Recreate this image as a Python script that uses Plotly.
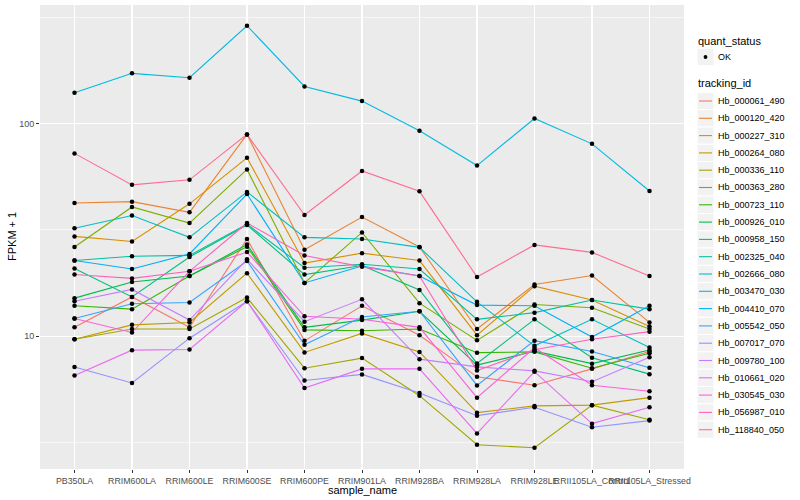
import plotly.graph_objects as go

samples = ["PB350LA", "RRIM600LA", "RRIM600LE", "RRIM600SE", "RRIM600PE", "RRIM901LA",
           "RRIM928BA", "RRIM928LA", "RRIM928LE", "RRII105LA_Control", "RRII105LA_Stressed"]

Hb_000061_490 = [11.0, 15.3, 11.0, 28.7, 9.5, 13.9, 10.1, 6.43, 5.87, 7.01, 8.47]
Hb_000120_420 = [42.4, 43.0, 38.3, 89.2, 25.5, 36.4, 26.3, 10.8, 17.5, 19.3, 11.6]
Hb_000227_310 = [29.5, 27.9, 42.0, 69.2, 22.1, 24.6, 22.7, 10.1, 17.2, 14.8, 11.1]
Hb_000264_080 = [9.66, 11.3, 11.6, 19.8, 8.38, 10.3, 8.42, 4.36, 4.69, 4.73, 5.13]
Hb_000336_110 = [9.66, 10.8, 10.8, 15.2, 7.06, 7.88, 5.24, 3.08, 2.98, 4.73, 4.04]
Hb_000363_280 = [26.3, 40.6, 34.1, 61.0, 17.8, 30.8, 14.3, 9.55, 14.1, 13.6, 10.8]
Hb_000723_110 = [13.9, 13.4, 19.2, 26.4, 10.7, 10.6, 10.8, 8.36, 8.43, 7.06, 8.30]
Hb_000926_010 = [15.1, 18.0, 19.2, 27.0, 11.0, 11.9, 13.1, 7.30, 8.50, 7.42, 8.60]
Hb_000958_150 = [20.8, 15.3, 23.6, 33.4, 19.5, 21.5, 16.5, 7.44, 12.0, 7.91, 6.62]
Hb_002325_040 = [22.7, 23.8, 24.0, 33.7, 21.0, 21.8, 20.7, 12.0, 12.9, 14.8, 13.4]
Hb_002666_080 = [32.2, 37.0, 29.2, 47.8, 29.2, 28.7, 26.2, 14.5, 9.0, 12.0, 8.85]
Hb_003470_030 = [140.0, 173.0, 165.0, 290.0, 150.0, 128.0, 92.7, 63.6, 106.0, 80.5, 48.3]
Hb_004410_070 = [22.7, 20.7, 24.4, 46.7, 17.8, 21.4, 19.2, 14.0, 13.9, 9.9, 13.9]
Hb_005542_050 = [12.1, 14.2, 14.4, 22.6, 9.1, 12.3, 13.1, 5.86, 9.52, 8.47, 7.09]
Hb_007017_070 = [7.16, 6.02, 9.78, 14.6, 6.18, 6.60, 5.39, 4.22, 4.62, 3.72, 4.00]
Hb_009780_100 = [14.6, 16.6, 11.9, 23.0, 11.7, 14.9, 7.79, 7.16, 6.86, 6.10, 7.96]
Hb_010661_020 = [6.53, 8.59, 8.65, 14.6, 5.69, 7.01, 7.01, 3.48, 6.80, 3.87, 4.62]
Hb_030545_030 = [12.1, 10.4, 20.2, 24.9, 12.4, 12.0, 11.0, 5.13, 8.81, 5.87, 5.50]
Hb_056987_010 = [19.5, 18.7, 20.2, 34.1, 24.0, 21.2, 19.2, 6.89, 8.63, 9.66, 10.5]
Hb_118840_050 = [72.6, 51.6, 54.5, 89.2, 37.2, 60.0, 48.1, 19.0, 26.9, 24.8, 19.2]

tracking_ids = ["Hb_000061_490", "Hb_000120_420", "Hb_000227_310", "Hb_000264_080", "Hb_000336_110",
                "Hb_000363_280", "Hb_000723_110", "Hb_000926_010", "Hb_000958_150", "Hb_002325_040",
                "Hb_002666_080", "Hb_003470_030", "Hb_004410_070", "Hb_005542_050", "Hb_007017_070",
                "Hb_009780_100", "Hb_010661_020", "Hb_030545_030", "Hb_056987_010", "Hb_118840_050"]
series_values = [Hb_000061_490, Hb_000120_420, Hb_000227_310, Hb_000264_080, Hb_000336_110,
                 Hb_000363_280, Hb_000723_110, Hb_000926_010, Hb_000958_150, Hb_002325_040,
                 Hb_002666_080, Hb_003470_030, Hb_004410_070, Hb_005542_050, Hb_007017_070,
                 Hb_009780_100, Hb_010661_020, Hb_030545_030, Hb_056987_010, Hb_118840_050]
colors = ["#F8766D", "#EA8331", "#D89000", "#C09B00", "#A3A500", "#7CAE00", "#39B600", "#00BB4E",
          "#00BF7D", "#00C1A3", "#00BFC4", "#00BAE0", "#00B0F6", "#35A2FF", "#9590FF", "#C77CFF",
          "#E76BF3", "#FA62DB", "#FF62BC", "#FF6C91"]

FONT = "Liberation Sans"
fig = go.Figure()

for name, vals, col in zip(tracking_ids, series_values, colors):
    fig.add_trace(go.Scatter(x=samples, y=vals, mode="lines", name=name,
                             line=dict(color=col, width=1.1), showlegend=False))

px, py = [], []
for vals in series_values:
    px += samples
    py += vals
fig.add_trace(go.Scatter(x=px, y=py, mode="markers", name="OK", showlegend=False,
                         marker=dict(color="black", size=4.5)))

# pixel geometry of plot panel
L, R, T, B = 40, 684, 5, 469
def xp(p):
    return (p - L) / (R - L)
def yp(p):
    return (B - p) / (B - T)

shapes = []
annotations = []

# axis titles
annotations.append(dict(x=0.5, y=yp(489.5), xref="paper", yref="paper", text="sample_name",
                        showarrow=False, xanchor="center", yanchor="middle",
                        font=dict(family=FONT, size=11, color="black")))
annotations.append(dict(x=xp(12), y=yp(237), xref="paper", yref="paper", text="FPKM + 1",
                        showarrow=False, textangle=-90, xanchor="center", yanchor="middle",
                        font=dict(family=FONT, size=11, color="black")))

# legend: quant_status
annotations.append(dict(x=xp(696), y=yp(41), xref="paper", yref="paper", text="quant_status",
                        showarrow=False, xanchor="left", yanchor="middle",
                        font=dict(family=FONT, size=11, color="black")))
kh = 17.3
cy = 57
shapes.append(dict(type="rect", xref="paper", yref="paper", x0=xp(697), x1=xp(714),
                   y0=yp(cy - kh / 2), y1=yp(cy + kh / 2), fillcolor="#F2F2F2",
                   line=dict(color="white", width=1), layer="above"))
shapes.append(dict(type="circle", xref="paper", yref="paper", x0=xp(703.6), x1=xp(707.4),
                   y0=yp(cy - 1.9), y1=yp(cy + 1.9), fillcolor="black",
                   line=dict(color="black", width=0), layer="above"))
annotations.append(dict(x=xp(716), y=yp(cy), xref="paper", yref="paper", text="OK",
                        showarrow=False, xanchor="left", yanchor="middle",
                        font=dict(family=FONT, size=9, color="black")))

# legend: tracking_id
annotations.append(dict(x=xp(696), y=yp(83), xref="paper", yref="paper", text="tracking_id",
                        showarrow=False, xanchor="left", yanchor="middle",
                        font=dict(family=FONT, size=11, color="black")))
for i, (name, col) in enumerate(zip(tracking_ids, colors)):
    cy = 101 + kh * i
    shapes.append(dict(type="rect", xref="paper", yref="paper", x0=xp(697), x1=xp(714),
                       y0=yp(cy - kh / 2), y1=yp(cy + kh / 2), fillcolor="#F2F2F2",
                       line=dict(color="white", width=1), layer="above"))
    shapes.append(dict(type="line", xref="paper", yref="paper", x0=xp(699), x1=xp(712),
                       y0=yp(cy), y1=yp(cy), line=dict(color=col, width=1.1), layer="above"))
    annotations.append(dict(x=xp(716), y=yp(cy), xref="paper", yref="paper", text=name,
                            showarrow=False, xanchor="left", yanchor="middle",
                            font=dict(family=FONT, size=9, color="black")))

fig.update_layout(
    width=800, height=500,
    margin=dict(l=L, r=800 - R, t=T, b=500 - B, pad=0),
    paper_bgcolor="white", plot_bgcolor="#EBEBEB",
    showlegend=False,
    font=dict(family=FONT, size=9, color="#4D4D4D"),
    shapes=shapes, annotations=annotations,
    xaxis=dict(type="category", categoryorder="array", categoryarray=samples,
               range=[-0.6, 10.6], showgrid=True, gridcolor="white", gridwidth=1.1,
               zeroline=False, showline=False, ticks="outside", ticklen=3, tickwidth=1,
               tickcolor="#333333", tickangle=0, tickfont=dict(family=FONT, size=8.8, color="#4D4D4D")),
    yaxis=dict(type="log", range=[0.374, 2.560], tickvals=[10, 100], ticktext=["10", "100"],
               showgrid=True, gridcolor="white", gridwidth=1.1, zeroline=False, showline=False,
               ticks="outside", ticklen=3, tickwidth=1, tickcolor="#333333",
               tickfont=dict(family=FONT, size=9, color="#4D4D4D"),
               minor=dict(tickvals=[3.1623, 31.623, 316.23], showgrid=True, gridcolor="white",
                          gridwidth=0.55, ticks="")),
)

fig.write_html("out.html", config={"displayModeBar": False, "staticPlot": True},
               post_script="document.body.style.margin='0px';document.body.style.overflow='hidden';")
